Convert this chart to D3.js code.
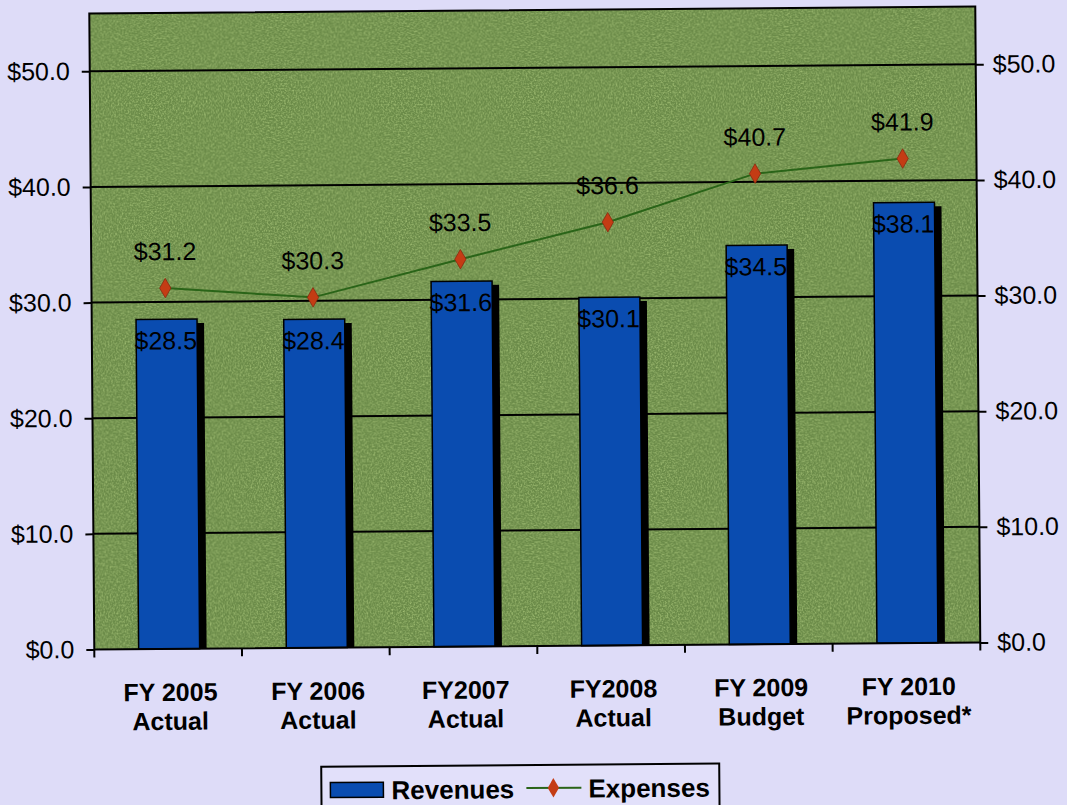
<!DOCTYPE html>
<html><head><meta charset="utf-8">
<script src="https://cdn.jsdelivr.net/npm/d3@7"></script>
<style>html,body{margin:0;padding:0;background:#dedcf8;}svg{display:block;}</style>
</head><body>
<script>
const categories = [["FY 2005","Actual"],["FY 2006","Actual"],["FY2007","Actual"],["FY2008","Actual"],["FY 2009","Budget"],["FY 2010","Proposed*"]];
const revenues = [28.5, 28.4, 31.6, 30.1, 34.5, 38.1];
const expenses = [31.2, 30.3, 33.5, 36.6, 40.7, 41.9];
const yTicks = [0, 10, 20, 30, 40, 50];

const W = 1067, H = 805;
const FONT = "Liberation Sans, Arial, sans-serif";
const svg = d3.select("body").append("svg").attr("width", W).attr("height", H);
const defs = svg.append("defs");
const f = defs.append("filter").attr("id","grain").attr("x",0).attr("y",0).attr("width","100%").attr("height","100%");
f.append("feTurbulence").attr("type","fractalNoise").attr("baseFrequency",0.6).attr("numOctaves",2).attr("seed",3).attr("result","n");
f.append("feColorMatrix").attr("in","n").attr("type","matrix")
  .attr("values","0 0 0 0 0.5  0 0 0 0 0.68  0 0 0 0 0.25  0 0 0 1.4 -0.55").attr("result","c");
f.append("feComposite").attr("in","c").attr("in2","SourceGraphic").attr("operator","in");

svg.append("rect").attr("width",W).attr("height",H).attr("fill","#dedcf8");

const g = svg.append("g").attr("transform","rotate(-0.45,534,356)");
const m = {left:92, right:978, top:10, bottom:646};
const x = d3.scaleBand().domain(categories.map((d,i)=>i)).range([m.left,m.right]);
const y = d3.scaleLinear().domain([0,55]).range([m.bottom,m.top]);

// plot area
g.append("rect").attr("x",m.left).attr("y",m.top).attr("width",m.right-m.left).attr("height",m.bottom-m.top).attr("fill","#6a8a48");
g.append("rect").attr("x",m.left).attr("y",m.top).attr("width",m.right-m.left).attr("height",m.bottom-m.top).attr("fill","#7aa043").attr("filter","url(#grain)");

// gridlines
g.append("g").selectAll("line").data(yTicks.filter(d=>d>0)).join("line")
  .attr("x1",m.left).attr("x2",m.right).attr("y1",d=>y(d)).attr("y2",d=>y(d))
  .attr("stroke","#000").attr("stroke-width",2);

// axes
const fmt = d => "$" + d3.format(".1f")(d);
const la = g.append("g").attr("transform",`translate(${m.left},0)`)
  .call(d3.axisLeft(y).tickValues(yTicks).tickFormat(fmt).tickSize(8).tickPadding(12));
const ra = g.append("g").attr("transform",`translate(${m.right},0)`)
  .call(d3.axisRight(y).tickValues(yTicks).tickFormat(fmt).tickSize(8).tickPadding(9));
[la,ra].forEach(a=>{
  a.select(".domain").remove();
  a.selectAll("line").attr("stroke","#000").attr("stroke-width",2);
  a.selectAll("text").attr("font-family",FONT).attr("font-size",25).attr("fill","#000");
});

// bars with shadow
const bw = 61;
const bx = i => x(i) + x.bandwidth()/2 - bw/2 + 1;
g.append("g").selectAll("rect").data(revenues).join("rect")
  .attr("x",(d,i)=>bx(i)+7).attr("y",d=>y(d)+4).attr("width",bw).attr("height",d=>m.bottom-y(d)-4).attr("fill","#000");
g.append("g").selectAll("rect").data(revenues).join("rect")
  .attr("x",(d,i)=>bx(i)).attr("y",d=>y(d)).attr("width",bw).attr("height",d=>m.bottom-y(d))
  .attr("fill","#0a4cb0").attr("stroke","#000").attr("stroke-width",1.5);

// plot border
g.append("rect").attr("x",m.left).attr("y",m.top).attr("width",m.right-m.left).attr("height",m.bottom-m.top)
  .attr("fill","none").attr("stroke","#000").attr("stroke-width",2);

// x axis ticks
const bounds = d3.range(categories.length+1).map(i => m.left + i*x.step());
g.append("g").selectAll("line").data(bounds).join("line")
  .attr("x1",d=>d).attr("x2",d=>d).attr("y1",m.bottom).attr("y2",m.bottom+8).attr("stroke","#000").attr("stroke-width",2);

// bar labels
g.append("g").selectAll("text").data(revenues).join("text")
  .attr("x",(d,i)=>x(i)+x.bandwidth()/2).attr("y",d=>y(d)+30)
  .attr("text-anchor","middle").attr("font-family",FONT).attr("font-size",25)
  .text(d=>fmt(d));

// expenses line
const cx = i => x(i)+x.bandwidth()/2;
g.append("path").datum(expenses).attr("fill","none").attr("stroke","#2a6418").attr("stroke-width",2)
  .attr("d", d3.line().x((d,i)=>cx(i)).y(d=>y(d)));
g.append("g").selectAll("path").data(expenses).join("path")
  .attr("transform",(d,i)=>`translate(${cx(i)},${y(d)})`)
  .attr("d", d3.symbol().type(d3.symbolDiamond).size(110))
  .attr("fill","#c43c14").attr("stroke","#8a2a10").attr("stroke-width",0.8);
g.append("g").selectAll("text").data(expenses).join("text")
  .attr("x",(d,i)=>cx(i)).attr("y",d=>y(d)-28)
  .attr("text-anchor","middle").attr("font-family",FONT).attr("font-size",25)
  .text(d=>fmt(d));

// category labels
const cl = g.append("g").selectAll("text").data(categories).join("text")
  .attr("x",(d,i)=>cx(i)+2).attr("y",m.bottom+52)
  .attr("text-anchor","middle").attr("font-family",FONT).attr("font-size",25).attr("font-weight","bold");
cl.append("tspan").attr("x",(d,i)=>cx(i)+2).text(d=>d[0]);
cl.append("tspan").attr("x",(d,i)=>cx(i)+2).attr("dy",29).text(d=>d[1]);

// legend
const lg = g.append("g");
lg.append("rect").attr("x",318).attr("y",765).attr("width",398).attr("height",60).attr("fill","#e2e0fa").attr("stroke","#000").attr("stroke-width",2);
lg.append("rect").attr("x",327).attr("y",781).attr("width",53).attr("height",15).attr("fill","#0a4cb0").attr("stroke","#000").attr("stroke-width",1.5);
lg.append("text").attr("x",388).attr("y",798).attr("font-family",FONT).attr("font-size",26).attr("font-weight","bold").text("Revenues");
lg.append("line").attr("x1",523).attr("x2",578).attr("y1",788).attr("y2",788).attr("stroke","#2a6418").attr("stroke-width",2);
lg.append("path").attr("transform","translate(550,788)").attr("d",d3.symbol().type(d3.symbolDiamond).size(110)).attr("fill","#c43c14");
lg.append("text").attr("x",585).attr("y",798).attr("font-family",FONT).attr("font-size",26).attr("font-weight","bold").text("Expenses");
</script>
</body></html>
